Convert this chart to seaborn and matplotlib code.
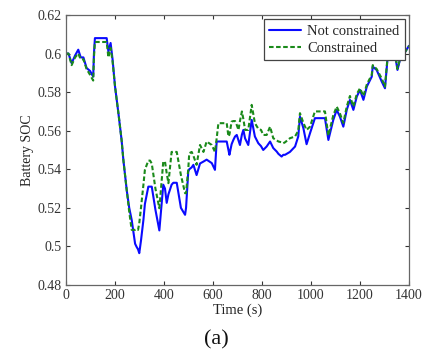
import numpy as np
import pandas as pd
import seaborn as sns
import matplotlib.pyplot as plt

sns.set_theme(style='ticks')
plt.rcParams['font.family'] = ['Liberation Serif', 'DejaVu Serif']

# data
time_s = [0, 10, 23, 37, 50, 60, 71, 84, 98, 111, 114, 118, 166, 173, 182, 190,
          200, 214, 227, 234, 248, 258, 268, 282, 288, 294, 299, 306, 316, 322,
          336, 343, 350, 365, 381, 397, 404, 411, 418, 431, 438, 452, 469, 486,
          490, 499, 503, 513, 520, 533, 547, 561, 574, 595, 608, 615, 622, 649,
          656, 663, 667, 676, 683, 690, 697, 704, 710, 718, 724, 731, 744, 758,
          771, 785, 796, 805, 819, 833, 846, 860, 867, 880, 887, 894, 914, 935,
          948, 955, 969, 982, 996, 1016, 1023, 1030, 1057, 1071, 1091, 1105,
          1118, 1132, 1146, 1159, 1173, 1187, 1200, 1214, 1228, 1248, 1252,
          1268, 1289, 1302, 1312, 1326, 1340, 1353, 1363, 1380, 1400]

soc_free = [0.600, 0.600, 0.595, 0.599, 0.602, 0.598, 0.598, 0.5925, 0.591, 0.588,
            0.600, 0.608, 0.608, 0.601, 0.6055, 0.597, 0.583, 0.569, 0.555, 0.545,
            0.529, 0.520, 0.5138, 0.5014, 0.4998, 0.4985, 0.4965, 0.503, 0.5138,
            0.522, 0.531, 0.531, 0.531, 0.519, 0.5083, 0.532, 0.530, 0.5226, 0.527,
            0.532, 0.533, 0.533, 0.520, 0.5164, 0.520, 0.5388, 0.540, 0.541, 0.5423,
            0.537, 0.543, 0.544, 0.545, 0.5432, 0.5397, 0.5544, 0.5544, 0.5544,
            0.5544, 0.550, 0.5475, 0.553, 0.5552, 0.557, 0.5578, 0.555, 0.5526,
            0.558, 0.5604, 0.556, 0.5526, 0.5656, 0.557, 0.5535, 0.552, 0.550,
            0.5518, 0.5544, 0.551, 0.5492, 0.548, 0.5466, 0.5475, 0.5475, 0.549,
            0.5518, 0.557, 0.5673, 0.5613, 0.553, 0.5587, 0.5665, 0.5665, 0.5665,
            0.5665, 0.5552, 0.5656, 0.5708, 0.5673, 0.5621, 0.5708, 0.576, 0.5708,
            0.5777, 0.5811, 0.576, 0.5829, 0.588, 0.5932, 0.5915, 0.5854, 0.582,
            0.5967, 0.6036, 0.602, 0.5915, 0.5967, 0.600, 0.604]

soc_cons = [0.600, 0.600, 0.594, 0.598, 0.600, 0.597, 0.597, 0.592, 0.589, 0.586,
            0.598, 0.606, 0.606, 0.598, 0.603, 0.596, 0.583, 0.569, 0.555, 0.545,
            0.529, 0.518, 0.5086, 0.5086, 0.509, 0.5086, 0.512, 0.520, 0.532,
            0.5397, 0.5445, 0.5445, 0.543, 0.530, 0.5198, 0.544, 0.544, 0.538,
            0.5328, 0.549, 0.549, 0.549, 0.537, 0.5276, 0.5276, 0.540, 0.5483,
            0.549, 0.547, 0.5423, 0.5526, 0.549, 0.5544, 0.5526, 0.549, 0.556,
            0.5639, 0.5639, 0.5639, 0.557, 0.558, 0.5647, 0.565, 0.565, 0.563,
            0.5604, 0.565, 0.570, 0.566, 0.5604, 0.5604, 0.5734, 0.5639, 0.561,
            0.5604, 0.5578, 0.5578, 0.5621, 0.5561, 0.555, 0.5544, 0.554, 0.5535,
            0.554, 0.5561, 0.557, 0.560, 0.5691, 0.564, 0.5604, 0.5621, 0.570,
            0.570, 0.570, 0.570, 0.5575, 0.568, 0.5725, 0.569, 0.564, 0.5725,
            0.578, 0.5725, 0.579, 0.582, 0.578, 0.584, 0.589, 0.594, 0.592, 0.587,
            0.5828, 0.5975, 0.604, 0.603, 0.592, 0.597, 0.600, 0.604]

df = pd.DataFrame({'t': time_s, 'free': soc_free, 'cons': soc_cons})

fig = plt.figure(figsize=(4.27, 3.61), dpi=100)
ax = fig.add_axes([0.1546, 0.2105, 0.8032, 0.748])

sns.lineplot(data=df, x='t', y='free', ax=ax, color='#0a0aff', lw=1.5,
             label='Not constrained')
sns.lineplot(data=df, x='t', y='cons', ax=ax, color='#1a8a1a', lw=1.5,
             ls=(0, (2.2, 1.2)), label='Constrained')

# axes like matlab
ax.set_xlim(0, 1400)
ax.set_ylim(0.48, 0.62)
ax.set_xticks(np.arange(0, 1401, 200))
ax.set_yticks(np.arange(0.48, 0.621, 0.02))
ax.set_yticklabels(['0.48', '0.5', '0.52', '0.54', '0.56', '0.58', '0.6', '0.62'])
ax.tick_params(direction='in', top=True, right=True, length=3, width=0.8,
               labelsize=10, colors='#333333', pad=3)
for s in ax.spines.values():
    s.set_color('#666666')
    s.set_linewidth(0.9)

ax.set_xlabel('Time (s)', fontsize=10.5, labelpad=1, color='#222222')
ax.set_ylabel('Battery SOC', fontsize=10, labelpad=3, color='#222222')

leg = ax.legend(loc='upper right', fontsize=10.5, fancybox=False, framealpha=1,
                edgecolor='#444444', borderaxespad=0.3, handlelength=2.2,
                borderpad=0.35, labelspacing=0.3, handletextpad=0.4)
leg.get_frame().set_linewidth(0.9)

fig.text(0.507, 0.058, '(a)', ha='center', va='center', fontsize=16,
         color='#111111')

plt.savefig('out.png', dpi=100)
plt.close()
